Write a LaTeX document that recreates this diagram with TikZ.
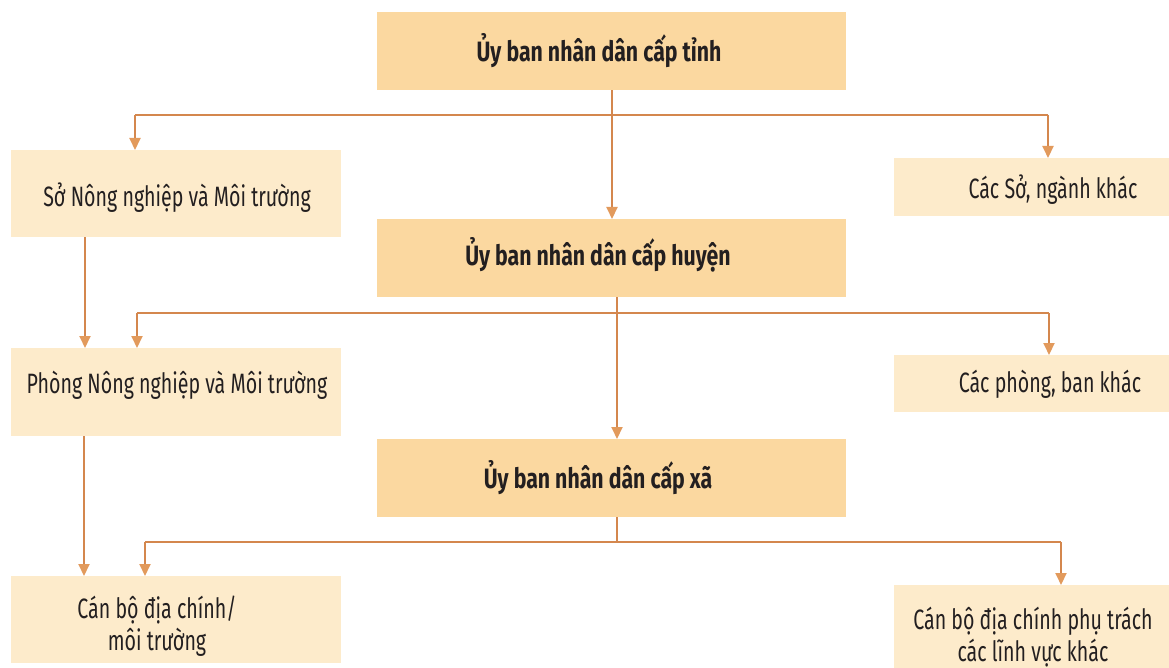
\documentclass[tikz,border=0pt]{standalone}
\usepackage{fontspec}
\setmainfont{Fira Sans}[FakeStretch=0.7,BoldFont={Fira Sans Bold},BoldFeatures={FakeStretch=0.76}]
\usetikzlibrary{arrows.meta}
\definecolor{mainfill}{HTML}{FBD8A0}
\definecolor{sidefill}{HTML}{FDEBCB}
\definecolor{linec}{HTML}{D4874E}
\definecolor{tipc}{HTML}{E29A5C}
\definecolor{txtc}{HTML}{231F20}
\begin{document}
\begin{tikzpicture}[x=1pt,y=-1pt,
  box/.style={draw=none,inner sep=0pt,anchor=north west},
  mainbox/.style={box,fill=mainfill,minimum width=469pt,minimum height=78pt},
  sidebox/.style={box,fill=sidefill},
  lbl/.style={text=txtc,font=\fontsize{28}{32}\selectfont,inner sep=0pt,align=center},
  mlbl/.style={lbl,font=\fontsize{28}{32}\selectfont\bfseries},
  conn/.style={draw=linec,line width=2pt},
  arr/.style={conn,-{Triangle[length=12pt,width=11pt,fill=tipc,color=tipc]}}]
\useasboundingbox (0,0) rectangle (1169,668);
% main boxes
\node[mainbox] (t1) at (377,12) {};
\node[mainbox] (t2) at (377,219) {};
\node[mainbox] (t3) at (377,439) {};
% side boxes
\node[sidebox,minimum width=330pt,minimum height=87pt] (s1) at (11,150) {};
\node[sidebox,minimum width=330pt,minimum height=88pt] (s2) at (11,348) {};
\node[sidebox,minimum width=330pt,minimum height=87pt] (s3) at (11,576) {};
\node[sidebox,minimum width=275pt,minimum height=58pt] (r1) at (894,158) {};
\node[sidebox,minimum width=275pt,minimum height=57pt] (r2) at (894,355) {};
\node[sidebox,minimum width=275pt,minimum height=83pt] (r3) at (894,585) {};
% labels
\node[mlbl] (lt1) at (599,51) {Ủy ban nhân dân cấp tỉnh};
\node[mlbl] (lt2) at (598,255) {Ủy ban nhân dân cấp huyện};
\node[mlbl] (lt3) at (598,478) {Ủy ban nhân dân cấp xã};
\node[lbl] (ls1) at (177,198) {Sở Nông nghiệp và Môi trường};
\node[lbl] (ls2) at (177,385) {Phòng Nông nghiệp và Môi trường};
\node[lbl] (ls3) at (157,626) {Cán bộ địa chính/\\môi trường};
\node[lbl] (lr1) at (1053,190) {Các Sở, ngành khác};
\node[lbl] (lr2) at (1050,384) {Các phòng, ban khác};
\node[lbl] (lr3) at (1033,637) {Cán bộ địa chính phụ trách\\các lĩnh vực khác};
% junction coordinates
\coordinate (j1l) at (135,115);
\coordinate (j1r) at (1048,115);
\coordinate (j2l) at (137,313);
\coordinate (j2r) at (1049,313);
\coordinate (j3l) at (145,542);
\coordinate (j3r) at (1061,542);
% level 1
\draw[conn] (j1l) -- (j1r);
\draw[arr] (t1.south -| 612,0) -- (t2.north -| 612,0);
\draw[arr] (j1l) -- (s1.north -| j1l);
\draw[arr] (j1r) -- (r1.north -| j1r);
% level 2
\draw[conn] (j2l) -- (j2r);
\draw[arr] (t2.south -| 617,0) -- (t3.north -| 617,0);
\draw[arr] (j2l) -- (s2.north -| j2l);
\draw[arr] (j2r) -- (r2.north -| j2r);
% level 3
\draw[conn] (j3l) -- (j3r);
\draw[conn] (t3.south -| 617,0) -- (617,542);
\draw[arr] (j3l) -- (s3.north -| j3l);
\draw[arr] (j3r) -- (r3.north -| j3r);
% left chain
\draw[arr] (s1.south -| 85,0) -- (s2.north -| 85,0);
\draw[arr] (s2.south -| 84,0) -- (s3.north -| 84,0);
\end{tikzpicture}
\end{document}
